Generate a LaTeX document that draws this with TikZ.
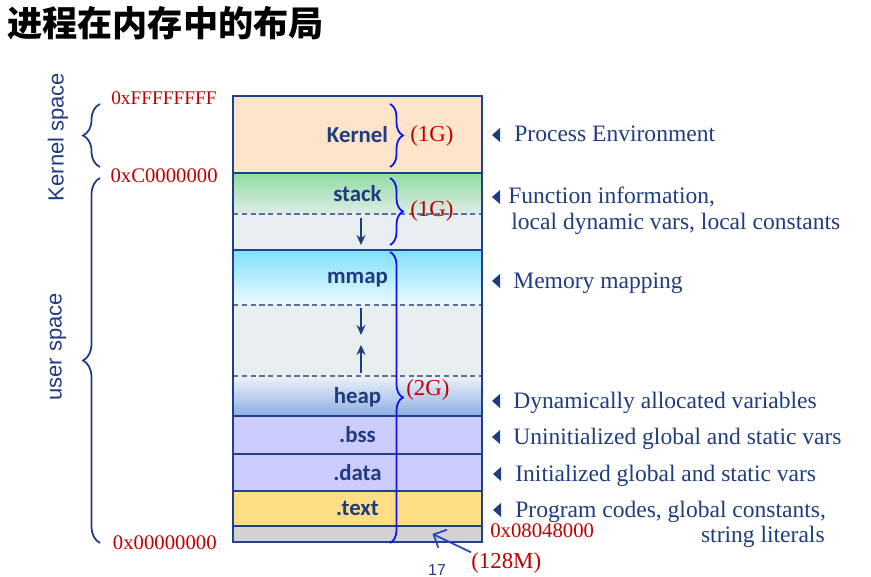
\documentclass[tikz,border=0pt]{standalone}
\usepackage{fontspec}
\setmainfont{Liberation Serif}
\setsansfont{Liberation Sans}
\newfontfamily\segfont{Carlito}
\newfontfamily\cjkfont{Noto Sans CJK SC}
\usetikzlibrary{arrows.meta, positioning, decorations.pathreplacing}
\definecolor{cnavy}{HTML}{1F3C7E}
\definecolor{cframe}{HTML}{223F8A}
\definecolor{caddr}{HTML}{C00000}
\definecolor{cbrace}{HTML}{0A14F0}
\definecolor{cpeach}{HTML}{FDE4CB}
\definecolor{cgreen}{HTML}{8FDBA0}
\definecolor{cfree}{HTML}{E9EEF0}
\definecolor{ccyan}{HTML}{80E0FB}
\definecolor{cheap}{HTML}{8DADE3}
\definecolor{clav}{HTML}{CCCCFF}
\definecolor{cyell}{HTML}{FFDE86}
\definecolor{cgrey}{HTML}{D2D2D2}
\definecolor{cdash}{HTML}{5D6F9C}
\definecolor{cpoint}{HTML}{2844C0}
\tikzset{
  seg/.style={minimum width=4.98cm, inner sep=0pt, outer sep=0pt, text depth=0pt, font=\segfont\bfseries\fontsize{13}{15}\selectfont, text=cnavy},
  border/.style={draw=cframe, line width=1.6pt},
  divider/.style={draw=cframe, line width=0.9pt},
  cutline/.style={draw=cdash, line width=0.7pt, dash pattern=on 3pt off 2pt},
  growarrow/.style={-{Stealth[length=2mm, width=1.8mm]}, draw=cnavy, line width=1pt},
  bracer/.style={decorate, decoration={brace, amplitude=0.26cm}, draw=cbrace, line width=1pt},
  bracel/.style={decorate, decoration={brace, amplitude=0.34cm}, draw=cnavy, line width=1pt},
  addr/.style={font=\fontsize{11.8}{14}\selectfont, text=caddr, inner sep=0pt},
  sizelabel/.style={font=\fontsize{13}{15}\selectfont, text=caddr, inner sep=0pt, anchor=west},
  desc/.style={font=\fontsize{13.4}{16}\selectfont, text=cnavy, inner sep=0pt, anchor=base west},
  spacelabel/.style={font=\sffamily\fontsize{12.5}{15}\selectfont, text=cnavy, rotate=90, inner sep=0pt},
  ptr/.style={-{Straight Barb[length=2mm]}, draw=cpoint, line width=1pt},
  tri/.pic={\fill[cnavy] (0,0) -- (0.16cm,0.14cm) -- (0.16cm,-0.14cm) -- cycle;},
}
\begin{document}
\begin{tikzpicture}[x=0.02cm, y=-0.02cm]
  \useasboundingbox (0,0) rectangle (871,577);
  \node[font=\cjkfont\bfseries\fontsize{20}{24}\selectfont, anchor=west, inner sep=0pt] (title) at (7,23) {进程在内存中的布局};

  % memory segments, top to bottom
  \node[seg, anchor=north west, minimum height=1.54cm, fill=cpeach] (kern) at (233,96) {Kernel};
  \node[seg, below=0pt of kern, minimum height=0.82cm, top color=cgreen, bottom color=cfree!90!cgreen] (stk) {stack};
  \node[seg, below=0pt of stk, minimum height=0.72cm, fill=cfree] (stkfree) {};
  \node[seg, below=0pt of stkfree, minimum height=1.10cm, top color=ccyan, bottom color=ccyan!15!white] (mmap) {mmap};
  \node[seg, below=0pt of mmap, minimum height=1.42cm, fill=cfree] (gap) {};
  \node[seg, below=0pt of gap, minimum height=0.80cm, top color=cheap!15!white, bottom color=cheap] (heap) {heap};
  \node[seg, below=0pt of heap, minimum height=0.76cm, fill=clav] (bss) {.bss};
  \node[seg, below=0pt of bss, minimum height=0.74cm, fill=clav] (data) {.data};
  \node[seg, below=0pt of data, minimum height=0.70cm, fill=cyell] (txt) {.text};
  \node[seg, below=0pt of txt, minimum height=0.32cm, fill=cgrey] (rsv) {};

  \draw[cutline] (stk.south west) -- (stk.south east);
  \draw[cutline] (mmap.south west) -- (mmap.south east);
  \draw[cutline] (gap.south west) -- (gap.south east);
  \draw[divider] (bss.south west) -- (bss.south east);
  \draw[divider] (data.south west) -- (data.south east);
  \draw[border] (kern.south west) -- (kern.south east);
  \draw[border] (stkfree.south west) -- (stkfree.south east);
  \draw[border] (heap.south west) -- (heap.south east);
  \draw[border] (txt.south west) -- (txt.south east);
  \draw[border] (kern.north west) rectangle (rsv.south east);

  \draw[growarrow] ([xshift=0.07cm, yshift=-0.08cm]stkfree.north) -- ([xshift=0.07cm, yshift=0.1cm]stkfree.south);
  \draw[growarrow] ([xshift=0.07cm, yshift=-0.06cm]gap.north) -- ([xshift=0.07cm, yshift=-0.6cm]gap.north);
  \draw[growarrow] ([xshift=0.07cm, yshift=0.06cm]gap.south) -- ([xshift=0.07cm, yshift=0.62cm]gap.south);

  % sizes
  \draw[bracer] (390,104) -- (390,167);
  \draw[bracer] (390,178) -- (390,245);
  \draw[bracer] (390,252) -- (390,543);
  \node[sizelabel] (g1) at (410,136) {(1G)};
  \node[sizelabel] (g2) at (410,211) {(1G)};
  \node[sizelabel] (g3) at (406,390) {(2G)};

  % spaces and addresses
  \draw[bracel] (100,167) -- (100,104);
  \draw[bracel] (100,543) -- (100,178);
  \node[spacelabel] (ks) at (58,137) {Kernel space};
  \node[spacelabel] (us) at (58,347) {user space};
  \node[addr, anchor=base east, font=\fontsize{11}{14}\selectfont] (a1) at (217,105) {0xFFFFFFFF};
  \node[addr, anchor=base east] (a2) at (218,183) {0xC0000000};
  \node[addr, anchor=base east] (a3) at (217,549) {0x00000000};
  \node[addr, anchor=base west] (a4) at (490,537) {0x08048000};

  % what each segment holds
  \node[desc] (d1) at (514,142) {Process Environment};
  \node[desc] (d2) at (508,204) {Function information,};
  \node[desc] (d2b) at (511,230) {local dynamic vars, local constants};
  \node[desc] (d3) at (513,288) {Memory mapping};
  \node[desc] (d4) at (513,408) {Dynamically allocated variables};
  \node[desc] (d5) at (513,444) {Uninitialized global and static vars};
  \node[desc] (d6) at (515,481) {Initialized global and static vars};
  \node[desc] (d7) at (515,517) {Program codes, global constants,};
  \node[desc, anchor=base east] (d7b) at (825,542) {string literals};
  \pic at (492,135) {tri};
  \pic at (492,197) {tri};
  \pic at (492,281) {tri};
  \pic at (492,401) {tri};
  \pic at (492,437) {tri};
  \pic at (493,474) {tri};
  \pic at (493,510) {tri};

  \node[sizelabel] (m128) at (471,563) {(128M)};
  \draw[ptr] (m128.north west) -- ([xshift=1.5cm, yshift=0.16cm]rsv.south);
  \node[font=\sffamily\fontsize{9}{10}\selectfont, text=cnavy, inner sep=0pt] (pg) at (437,570) {17};
\end{tikzpicture}
\end{document}
